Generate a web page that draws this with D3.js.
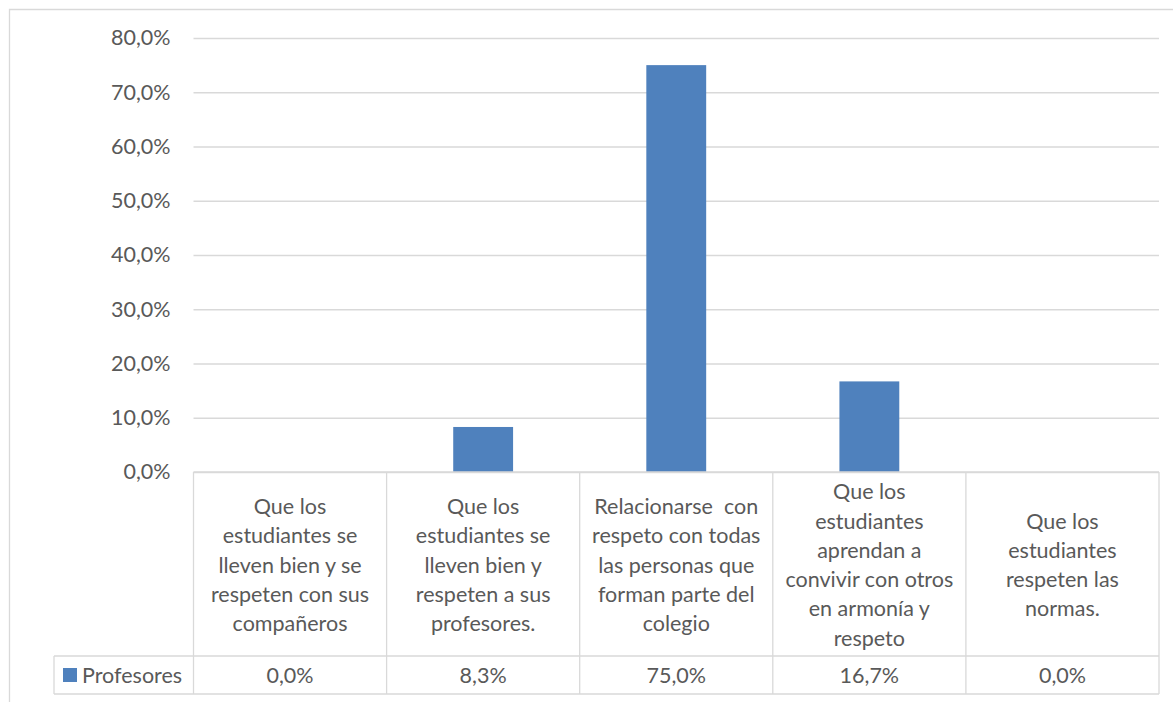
<!DOCTYPE html>
<html><head><meta charset="utf-8">
<script src="https://cdn.jsdelivr.net/npm/d3@7"></script>
<style>
html,body{margin:0;padding:0;background:#fff;}
svg{display:block;font-family:Lato,"Open Sans",sans-serif;}
</style></head>
<body>
<svg id="chart" width="1173" height="702"></svg>
<script>
const categories = [
  ["Que los","estudiantes se","lleven bien y se","respeten con sus","compañeros"],
  ["Que los","estudiantes se","lleven bien y","respeten a sus","profesores."],
  ["Relacionarse  con","respeto con todas","las personas que","forman parte del","colegio"],
  ["Que los","estudiantes","aprendan a","convivir con otros","en armonía y","respeto"],
  ["Que los","estudiantes","respeten las","normas."]
];
const seriesName = "Profesores";
const values = [0.0, 8.3, 75.0, 16.7, 0.0];
const yTicks = [0,10,20,30,40,50,60,70,80];

(function(){
const svg = d3.select("#chart");
const W = 1173, H = 702;
const pLeft = 193.5, pRight = 1159, pTop = 38, base = 472;
const rowBottom = 656, legBottom = 694, legLeft = 54;
const grid = "#d9d9d9", txt = "#595959", barColor = "#4f81bd";
const fs = 21.5;

const loc = d3.formatLocale({decimal:",", thousands:".", grouping:[3], currency:["",""]});
const fmt = v => loc.format(".1f")(v) + "%";

const ids = categories.map((c,i)=>"c"+i);
const x = d3.scaleBand().domain(ids).range([pLeft,pRight]);
const y = d3.scaleLinear().domain([0,80]).range([base,pTop]);

// outer border
svg.append("path").attr("d",`M9.5,${H} V9.5 H${W}`).attr("fill","none").attr("stroke",grid).attr("stroke-width",1.3);

// gridlines + ticks
const ax = svg.append("g").attr("transform",`translate(${pLeft},0)`)
  .call(d3.axisLeft(y).tickValues(yTicks).tickSize(-(pRight-pLeft)).tickPadding(23).tickFormat(fmt));
ax.select(".domain").remove();
ax.selectAll(".tick line").attr("stroke",grid).attr("stroke-width",1.3);
ax.selectAll(".tick text").attr("fill",txt).attr("font-size",fs).attr("font-family","Lato,'Open Sans',sans-serif");

// bars
const bw = x.bandwidth()*0.31;
svg.append("g").selectAll("rect").data(values).join("rect")
  .attr("x",(d,i)=>x(ids[i])+(x.bandwidth()-bw)/2)
  .attr("width",bw)
  .attr("y",d=>y(d))
  .attr("height",d=>base-y(d))
  .attr("fill",barColor);

// table
const tbl = svg.append("g").attr("stroke",grid).attr("stroke-width",1.3).attr("fill","none");
tbl.append("line").attr("x1",pLeft).attr("x2",pRight).attr("y1",base).attr("y2",base);
tbl.append("line").attr("x1",legLeft).attr("x2",pRight).attr("y1",rowBottom).attr("y2",rowBottom);
tbl.append("line").attr("x1",legLeft).attr("x2",pRight).attr("y1",legBottom).attr("y2",legBottom);
tbl.append("line").attr("x1",legLeft).attr("x2",legLeft).attr("y1",rowBottom).attr("y2",legBottom);
ids.forEach(id=>{
  tbl.append("line").attr("x1",x(id)).attr("x2",x(id)).attr("y1",base).attr("y2",legBottom);
});
tbl.append("line").attr("x1",pRight).attr("x2",pRight).attr("y1",base).attr("y2",legBottom);

// category labels
const lh = 29.3;
const catMid = (base+rowBottom)/2 + 1;
categories.forEach((lines,i)=>{
  const cx = x(ids[i]) + x.bandwidth()/2;
  const t = svg.append("text").attr("text-anchor","middle").attr("fill",txt).attr("font-size",fs)
    .attr("xml:space","preserve").style("white-space","pre");
  const y0 = catMid - (lines.length-1)*lh/2;
  lines.forEach((l,j)=>{
    t.append("tspan").attr("x",cx).attr("y",y0+j*lh).attr("dy","0.35em").text(l);
  });
});

// legend row
const legMid = (rowBottom+legBottom)/2;
svg.append("rect").attr("x",63).attr("y",legMid-7).attr("width",14).attr("height",14).attr("fill",barColor);
svg.append("text").attr("x",82).attr("y",legMid).attr("dy","0.35em").attr("fill",txt).attr("font-size",fs).text(seriesName);
values.forEach((v,i)=>{
  svg.append("text").attr("x",x(ids[i])+x.bandwidth()/2).attr("y",legMid).attr("dy","0.35em")
    .attr("text-anchor","middle").attr("fill",txt).attr("font-size",fs).text(fmt(v));
});
})();
</script>
</body></html>
